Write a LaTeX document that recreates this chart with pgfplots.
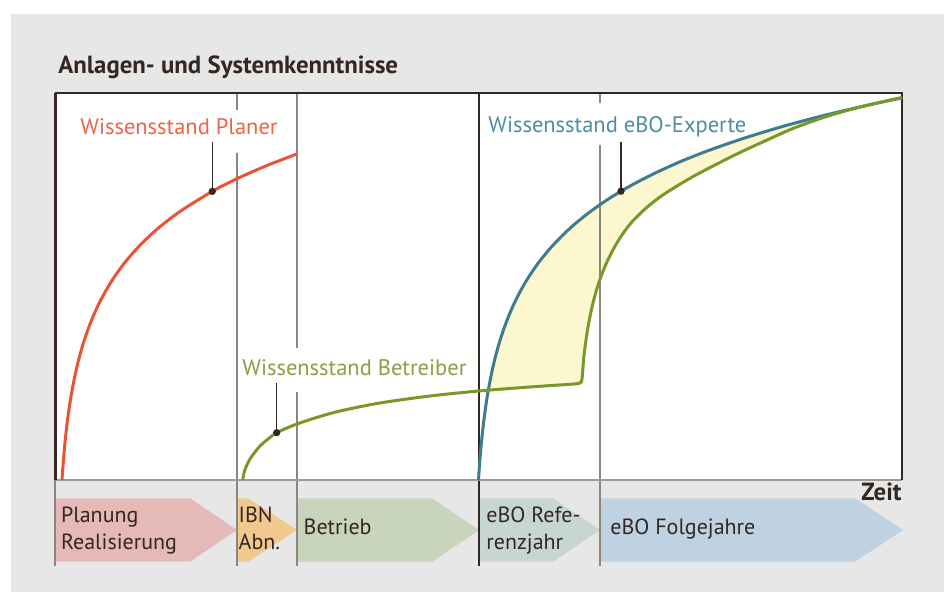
\documentclass[border=0pt]{standalone}
\usepackage{pgfplots}
\pgfplotsset{compat=1.18}
\usepgfplotslibrary{fillbetween}
\usepackage{fontspec}
\setmainfont{PT Sans}
\definecolor{bgc}{RGB}{231,231,231}
\definecolor{darkc}{RGB}{52,38,32}
\definecolor{grayl}{RGB}{140,134,128}
\definecolor{axgray}{RGB}{160,155,150}
\definecolor{redc}{RGB}{232,84,52}
\definecolor{olivec}{RGB}{122,152,42}
\definecolor{tealc}{RGB}{62,124,144}
\definecolor{yellowc}{RGB}{252,247,206}
\definecolor{redl}{RGB}{236,100,70}
\definecolor{olivel}{RGB}{134,162,66}
\definecolor{teall}{RGB}{80,140,160}
\definecolor{arPink}{RGB}{229,185,184}
\definecolor{arOrange}{RGB}{241,201,142}
\definecolor{arGreen}{RGB}{200,213,188}
\definecolor{arGrey}{RGB}{200,214,211}
\definecolor{arBlue}{RGB}{190,210,225}
\newcommand{\lbl}{\fontsize{11.25}{13}\selectfont}
\newcommand{\phs}{\fontsize{11}{13}\selectfont}

\begin{document}
\begin{tikzpicture}
% 1 unit = 1 reference pixel, y measured up from the time axis
\begin{axis}[x=0.5pt, y=0.5pt, xmin=0, xmax=944, ymin=-112, ymax=480,
    hide axis, clip=false, set layers]

\begin{pgfonlayer}{axis background}
\path (0,-112) rectangle (944,480);
\fill[bgc] (11,-112) rectangle (944,466);
\fill[white] (55,0) rectangle (902,387);
% phase arrows
\fill[arPink] (55,-18.3) -- (190,-18.3) -- (237,-50) -- (190,-81.7) -- (55,-81.7) -- cycle;
\fill[arOrange] (237,-18.3) -- (248,-18.3) -- (297,-50) -- (248,-81.7) -- (237,-81.7) -- cycle;
\fill[arGreen] (297,-18.3) -- (432,-18.3) -- (479,-50) -- (432,-81.7) -- (297,-81.7) -- cycle;
\fill[arGrey] (479,-18.3) -- (553,-18.3) -- (600,-50) -- (553,-81.7) -- (479,-81.7) -- cycle;
\fill[arBlue] (600,-18.3) -- (855,-18.3) -- (903,-50) -- (855,-81.7) -- (600,-81.7) -- cycle;
\end{pgfonlayer}

% frame and phase separators
\draw[grayl, line width=0.75pt] (237,387)--(237,370) (237,327)--(237,-86);
\draw[grayl, line width=0.75pt] (297,387)--(297,132) (297,88)--(297,-86);
\draw[grayl, line width=0.75pt] (600,387)--(600,377) (600,335)--(600,-86);
\draw[grayl, line width=0.75pt] (55,0)--(55,-86);
\draw[darkc, line width=0.75pt] (479,387)--(479,-86);
\draw[axgray, line width=1pt] (55,0)--(902,0);
\draw[darkc, line width=0.75pt] (55,387)--(902,387)--(902,0);
\draw[darkc, line width=1.5pt] (55,0)--(55,387.4);

% knowledge curves
\addplot[redc, line width=1.5pt, smooth] coordinates {
(62,0)(62.5,7.5)(63.5,20.8)(65,37.6)(67,55.8)(69.5,74.2)(73,94.8)(77.5,115.6)
(83,135.7)(90,155.9)(99,176.5)(110,196.3)(123,215.1)(139,233.7)(158,251.6)
(181,269.2)(212.3,288.6)(237,301.3)(267,314.5)(297,326)};
\addplot[tealc, line width=1.5pt, smooth, name path=expert] coordinates {
(478.5,0)(479,7.6)(480,21.2)(481,32.9)(482.5,47.9)(484,60.8)(486,75.4)
(488.5,90.9)(492,108.7)(496,125.5)(501,142.7)(508,162.3)(516,180.4)
(526,198.7)(538,216.6)(552,233.7)(568,249.9)(586,265.1)(606,279.4)
(628,292.8)(652,305.4)(680,318.2)(710,330.0)(745,342.1)(785,354.2)
(830,366.0)(880,377.5)(902,382.1)};
\addplot[olivec, line width=1.5pt, smooth, name path=betr] coordinates {
(242.7,0)(244,7)(246,13)(250,21)(255,28)(260,34)(268,41)(276.7,47.3)(287,52)
(297,56)(315,62)(340,69)(380,77)(430,84)(479,89)(530,93)(570,95.7)(576,96.2)
(579.5,96.8)(581.5,98.3)(582.5,106)(583.5,119.5)(585,132.6)(587,146.7)
(589.5,161)(592.5,174.9)(596.5,189.9)(601,203.5)(607,218.1)(614,232)
(622,245)(631,257)(645,271)(660,283)(677,294)(695,304.5)(715,315)
(740,327.5)(765,339)(793,351.5)(825,363)(860,373)(902,382.5)};
\addplot[yellowc] fill between[of=expert and betr, soft clip={domain=487:862}];

% pointers
\draw[darkc, line width=0.75pt] (212.3,338)--(212.3,288.6) (276.7,97)--(276.7,47.3) (621,338)--(621,288.8);
\addplot[only marks, mark=*, mark size=1.6pt, darkc] coordinates {(212.3,288.6)(276.7,47.3)(621,288.8)};

% texts
\node[anchor=base west, inner sep=0, text=darkc, font=\fontsize{12.4}{14}\selectfont\bfseries] at (58,406.7) {Anlagen- und Systemkenntnisse};
\node[anchor=base west, inner sep=0, text=redl, font=\lbl] at (80,345) {Wissensstand Planer};
\node[anchor=base west, inner sep=0, text=teall, font=\lbl] at (488,347) {Wissensstand eBO-Experte};
\node[anchor=base west, inner sep=0, text=olivel, font=\lbl] at (242,104) {Wissensstand Betreiber};
\node[anchor=base east, inner sep=0, text=darkc, font=\fontsize{12.4}{14}\selectfont\bfseries] at (902,-20.7) {Zeit};
\node[anchor=base west, inner sep=0, text=darkc, font=\phs] at (60.7,-42.7) {Planung};
\node[anchor=base west, inner sep=0, text=darkc, font=\phs] at (60.7,-69.3) {Realisierung};
\node[anchor=base west, inner sep=0, text=darkc, font=\phs] at (238.3,-42.7) {IBN};
\node[anchor=base west, inner sep=0, text=darkc, font=\phs] at (238.3,-69.3) {Abn.};
\node[anchor=base west, inner sep=0, text=darkc, font=\phs] at (303.3,-54.3) {Betrieb};
\node[anchor=base west, inner sep=0, text=darkc, font=\phs] at (486,-42.7) {eBO Refe-};
\node[anchor=base west, inner sep=0, text=darkc, font=\phs] at (486,-69.3) {renzjahr};
\node[anchor=base west, inner sep=0, text=darkc, font=\phs] at (610,-54.3) {eBO Folgejahre};
\end{axis}
\end{tikzpicture}
\end{document}
